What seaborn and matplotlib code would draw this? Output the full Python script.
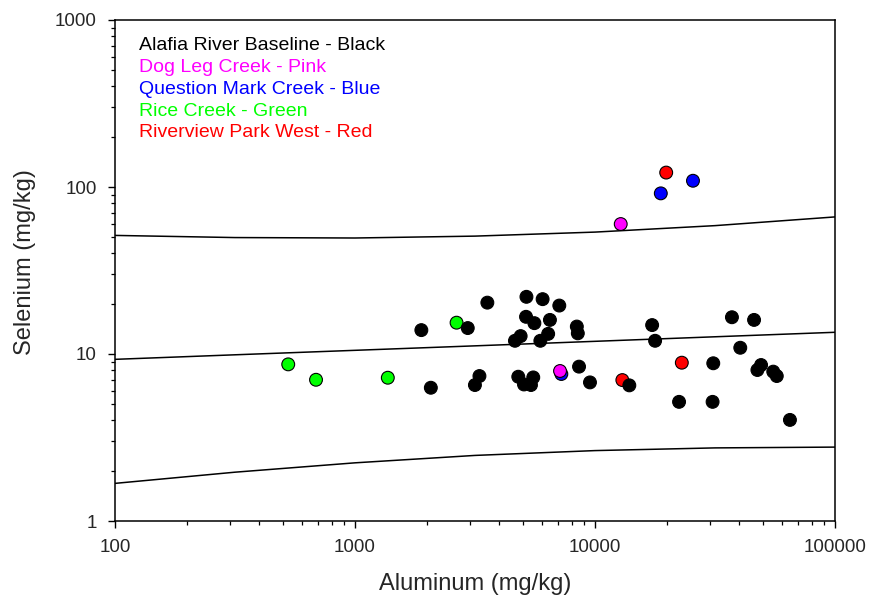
import matplotlib
matplotlib.use("Agg")
import matplotlib.pyplot as plt
import seaborn as sns
import pandas as pd
from matplotlib.ticker import LogLocator, NullFormatter

# ---------------- data ----------------
black_al = [1890, 2950, 3560, 5180, 6050, 7100, 5160, 5590, 6490, 8400, 8480,
            17300, 17800, 4640, 4900, 5920, 6380, 2070, 3300, 3160, 4790, 5060,
            5410, 5530, 8580, 9530, 13900, 31100, 37200, 46000, 40300, 49200,
            47500, 55300, 57200, 22400, 30900, 64900]
black_se = [13.9, 14.3, 20.3, 22.0, 21.3, 19.5, 16.7, 15.3, 16.0, 14.6, 13.3,
            14.9, 12.0, 12.0, 12.8, 12.0, 13.2, 6.28, 7.38, 6.52, 7.31, 6.57,
            6.52, 7.24, 8.40, 6.76, 6.49, 8.80, 16.6, 16.0, 10.9, 8.59,
            8.02, 7.84, 7.38, 5.17, 5.17, 4.03]
pink_al = [7150, 12800]
pink_se = [7.91, 60.0]
blue_al = [7240, 18800, 25600]
blue_se = [7.59, 91.6, 109]
green_al = [527, 688, 1370, 2650]
green_se = [8.67, 7.01, 7.21, 15.4]
red_al = [13000, 19800, 23000]
red_se = [6.98, 122, 8.87]

# regression line and prediction bands (read at half-decade positions)
band_x = [100, 316, 1000, 3162, 10000, 31623, 100000]
band_upper = [51.3, 49.8, 49.5, 50.8, 53.7, 58.7, 66.2]
band_mid = [9.29, 9.89, 10.52, 11.19, 11.91, 12.68, 13.49]
band_lower = [1.68, 1.96, 2.23, 2.47, 2.64, 2.74, 2.77]

legend_lines = ["Alafia River Baseline - Black", "Dog Leg Creek - Pink",
                "Question Mark Creek - Blue", "Rice Creek - Green",
                "Riverview Park West - Red"]
x_ticks = [100, 1000, 10000, 100000]
y_ticks = [1, 10, 100, 1000]

# ---------------- styling ----------------
sns.set_style("ticks")
plt.rcParams["font.family"] = ["Liberation Sans", "DejaVu Sans"]

colors = {"Green": "#00ff00", "Red": "#ff0000", "Blue": "#0000ff",
          "Pink": "#ff00ff", "Black": "#000000"}
legend_colors = ["#000000", "#ff00ff", "#0000ff", "#00ff00", "#ff0000"]

frames = []
for name, al, se in [("Green", green_al, green_se), ("Red", red_al, red_se),
                     ("Blue", blue_al, blue_se), ("Pink", pink_al, pink_se),
                     ("Black", black_al, black_se)]:
    frames.append(pd.DataFrame({"Aluminum": al, "Selenium": se, "Site": name}))
df = pd.concat(frames, ignore_index=True)

bands = pd.DataFrame({"x": band_x, "upper": band_upper,
                      "mid": band_mid, "lower": band_lower})

fig = plt.figure(figsize=(8.71, 6.09), dpi=100)
ax = fig.add_axes([115 / 871, 1 - 521 / 609, 720 / 871, 501 / 609])

for col in ["upper", "mid", "lower"]:
    sns.lineplot(data=bands, x="x", y=col, ax=ax, color="black", lw=1.1,
                 estimator=None, sort=False)

sns.scatterplot(data=df, x="Aluminum", y="Selenium", hue="Site",
                palette=colors, ax=ax, s=85, edgecolor="black",
                linewidth=0.8, legend=False, zorder=3)

ax.set_xscale("log")
ax.set_yscale("log")
ax.set_xlim(100, 100000)
ax.set_ylim(1, 1000)
ax.set_xticks(x_ticks)
ax.set_xticklabels([str(v) for v in x_ticks])
ax.set_yticks(y_ticks)
ax.set_yticklabels([str(v) for v in y_ticks])
ax.xaxis.set_minor_locator(LogLocator(base=10, subs=[2, 3, 4, 5, 6, 7, 8, 9], numticks=20))
ax.yaxis.set_minor_locator(LogLocator(base=10, subs=[2, 3, 4, 5, 6, 7, 8, 9], numticks=20))
ax.xaxis.set_minor_formatter(NullFormatter())
ax.yaxis.set_minor_formatter(NullFormatter())

for sp in ax.spines.values():
    sp.set_visible(True)
    sp.set_color("black")
    sp.set_linewidth(1.1)

ax.tick_params(axis="both", which="major", direction="out", length=5,
               width=1.0, labelsize=13.5, pad=8, color="black",
               bottom=True, left=True, top=False, right=False)
ax.tick_params(axis="both", which="minor", direction="out", length=3,
               width=0.9, color="black",
               bottom=True, left=True, top=False, right=False)

ax.set_xlabel("Aluminum (mg/kg)", fontsize=17)
ax.set_ylabel("Selenium (mg/kg)", fontsize=17)
ax.xaxis.set_label_coords(0.5, -0.125)
ax.xaxis.label.set_va("center")
ax.yaxis.set_label_coords(-0.125, 0.517)
ax.yaxis.label.set_va("center")

for i, (txt, c) in enumerate(zip(legend_lines, legend_colors)):
    ax.text(0.034, 0.949 - i * 0.0436, txt, transform=ax.transAxes,
            color=c, fontsize=14, va="center", ha="left")

fig.savefig("out.png", dpi=100)
